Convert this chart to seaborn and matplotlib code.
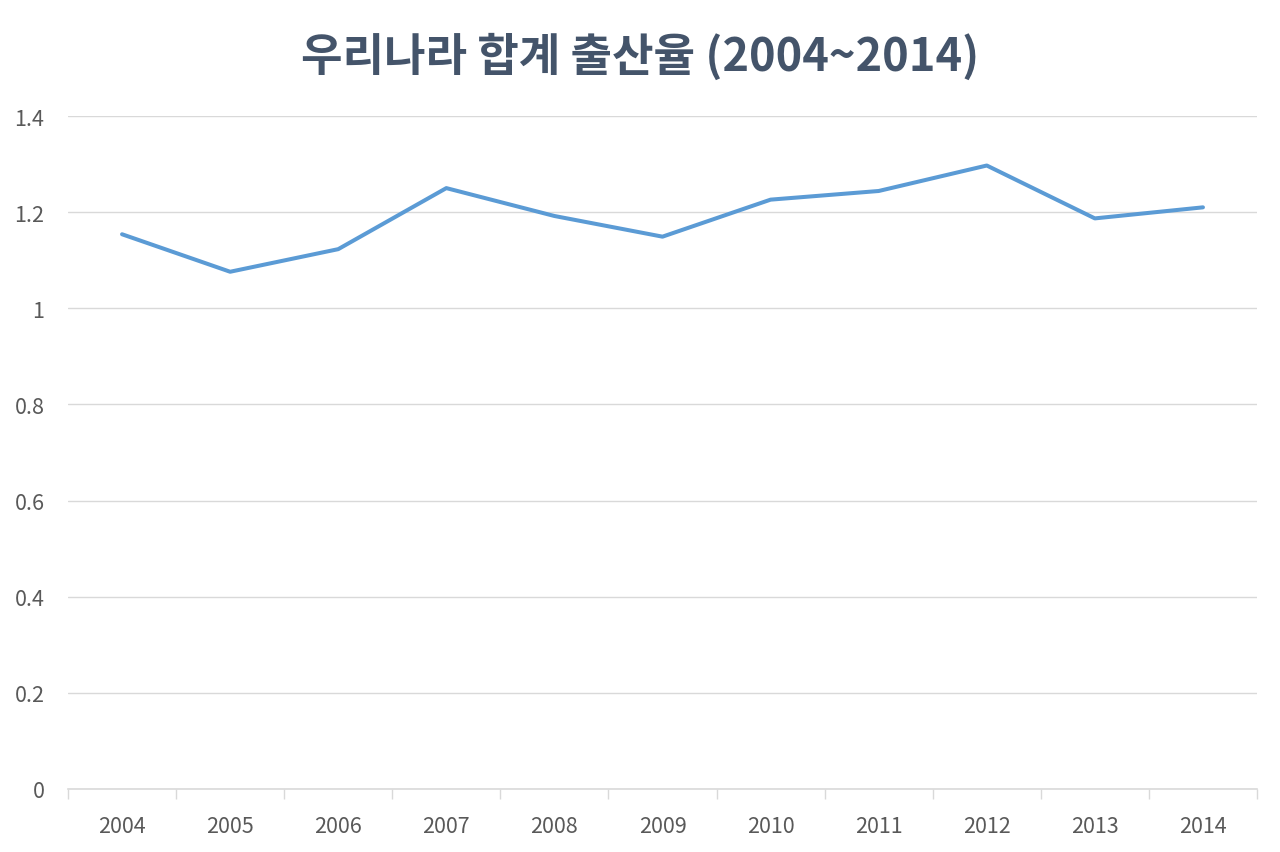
import matplotlib
matplotlib.use("Agg")
import matplotlib.pyplot as plt
import seaborn as sns
import numpy as np
import pandas as pd
from matplotlib.ticker import FixedLocator

years = ["2004", "2005", "2006", "2007", "2008", "2009", "2010", "2011", "2012", "2013", "2014"]
fertility = [1.154, 1.076, 1.123, 1.250, 1.192, 1.149, 1.226, 1.244, 1.297, 1.187, 1.210]
y_ticks = [0, 0.2, 0.4, 0.6, 0.8, 1.0, 1.2, 1.4]
y_tick_labels = ["0", "0.2", "0.4", "0.6", "0.8", "1", "1.2", "1.4"]
title = "우리나라 합계 출산율 (2004~2014)"

sns.set_theme(style="white")
plt.rcParams['font.family'] = ['Noto Sans CJK KR', 'DejaVu Sans']

df = pd.DataFrame({"year": years, "rate": fertility})
df["pos"] = np.arange(len(years))

fig = plt.figure(figsize=(12.8, 8.53), dpi=100)
ax = fig.add_axes([68/1280, 1 - 790/853, (1257-68)/1280, (790-117)/853])

sns.lineplot(data=df, x="pos", y="rate", ax=ax, color="#5B9BD5", linewidth=2.9,
             solid_capstyle="round", solid_joinstyle="round")

ax.set_xlim(-0.5, len(years) - 0.5)
ax.set_ylim(0, 1.4)
ax.set_yticks(y_ticks)
ax.set_yticklabels(y_tick_labels)
ax.set_xticks(df["pos"])
ax.set_xticklabels(years)
ax.xaxis.set_minor_locator(FixedLocator(np.arange(-0.5, len(years), 1.0)))
ax.tick_params(axis="x", which="major", length=0, pad=19, labelsize=15.5, labelcolor="#595959")
ax.tick_params(axis="x", which="minor", length=7, width=1, color="#D9D9D9", direction="out", bottom=True)
ax.tick_params(axis="y", length=0, pad=17, labelsize=15.5, labelcolor="#595959")
for lab in ax.get_yticklabels():
    lab.set_horizontalalignment("right")

ax.grid(axis="y", color="#D9D9D9", linewidth=1)
ax.grid(axis="x", visible=False)
ax.set_axisbelow(True)
for s in ["top", "right", "left"]:
    ax.spines[s].set_visible(False)
ax.spines["bottom"].set_color("#D9D9D9")
ax.spines["bottom"].set_linewidth(1.2)
ax.set_xlabel("")
ax.set_ylabel("")

fig.text(640/1280, 1 - 57/853, title, ha="center", va="center", fontsize=32.5,
         fontweight="bold", color="#44546A")

fig.savefig("out.png", dpi=100, facecolor="white")
